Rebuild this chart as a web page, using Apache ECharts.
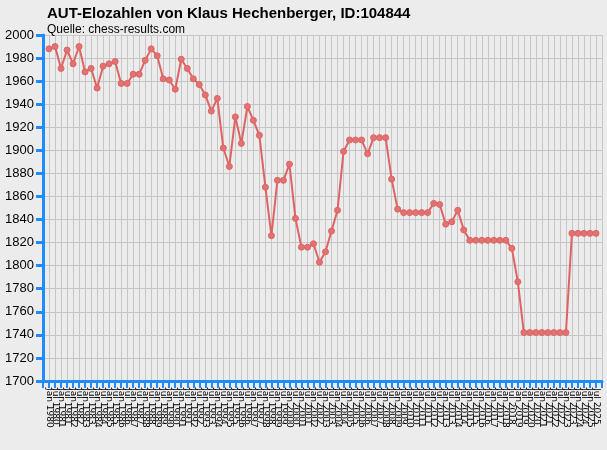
<!DOCTYPE html>
<html>
<head>
<meta charset="utf-8">
<script src="https://cdn.jsdelivr.net/npm/echarts@6/dist/echarts.min.js"></script>
<style>
  html, body { margin: 0; padding: 0; background: #ececec; }
  #chart { width: 607px; height: 450px; }
</style>
</head>
<body>
<div id="chart"></div>
<script>
// Elo-Werte, je ein Wert pro Liste (Jan / Jul)
const years = [];
for (let y = 1980; y <= 2025; y++) years.push(y);
const dates = [];
years.forEach(y => { dates.push("Jan " + y); dates.push("Jul " + y); });

const elo = [
  1988, 1990, 1971, 1987, 1975, 1990, 1968, 1971, 1954, 1973,
  1975, 1977, 1958, 1958, 1966, 1966, 1978, 1988, 1982, 1962,
  1961, 1953, 1979, 1971, 1962, 1957, 1948, 1934, 1945, 1902,
  1886, 1929, 1906, 1938, 1926, 1913, 1868, 1826, 1874, 1874,
  1888, 1841, 1816, 1816, 1819, 1803, 1812, 1830, 1848, 1899,
  1909, 1909, 1909, 1897, 1911, 1911, 1911, 1875, 1849, 1846,
  1846, 1846, 1846, 1846, 1854, 1853, 1836, 1838, 1848, 1831,
  1822, 1822, 1822, 1822, 1822, 1822, 1822, 1815, 1786, 1742,
  1742, 1742, 1742, 1742, 1742, 1742, 1742, 1828, 1828, 1828,
  1828, 1828
];

const yTicks = { min: 1700, max: 2000, step: 20 };
const blue = "#1e8cff";

const chart = echarts.init(document.getElementById("chart"));
const option = {
  backgroundColor: "#ececec",
  animation: false,
  title: {
    text: "AUT-Elozahlen von Klaus Hechenberger, ID:104844",
    subtext: "Quelle: chess-results.com",
    left: 42,
    top: 1,
    itemGap: 3,
    textStyle: { fontFamily: "Liberation Sans", fontSize: 15, fontWeight: "bold", color: "#000" },
    subtextStyle: { fontFamily: "Liberation Sans", fontSize: 12, color: "#000" }
  },
  grid: { left: 43, right: 5, top: 35, bottom: 69 },
  xAxis: {
    type: "value",
    min: -1,
    max: 92,
    interval: 1,
    axisLine: { show: true, onZero: false, lineStyle: { color: blue, width: 3 } },
    axisTick: { show: true, length: 7, lineStyle: { color: blue, width: 2 } },
    axisLabel: {
      rotate: -90,
      interval: 0,
      fontFamily: "DejaVu Sans",
      fontSize: 9,
      color: "#000",
      margin: 7,
      showMinLabel: true,
      showMaxLabel: true,
      formatter: v => (v >= 0 && v < dates.length ? dates[v] : "")
    },
    splitLine: { show: true, lineStyle: { color: "#c6c6c6", width: 1 } }
  },
  yAxis: {
    type: "value",
    min: yTicks.min,
    max: yTicks.max,
    interval: yTicks.step,
    axisLine: { show: true, onZero: false, lineStyle: { color: blue, width: 3 } },
    axisTick: { show: true, length: 7, lineStyle: { color: blue, width: 3 } },
    axisLabel: {
      fontFamily: "Liberation Sans", fontSize: 13, color: "#000", margin: 9,
      formatter: v => String(v)
    },
    splitLine: { show: true, lineStyle: { color: "#c6c6c6", width: 1 } }
  },
  series: [{
    type: "line",
    data: elo.map((v, i) => [i, v]),
    symbol: "circle",
    symbolSize: 6,
    lineStyle: { color: "#de6464", width: 2 },
    itemStyle: { color: "#e27272", borderColor: "#de6464", borderWidth: 1 },
    z: 3
  }]
};
chart.setOption(option);
</script>
</body>
</html>
